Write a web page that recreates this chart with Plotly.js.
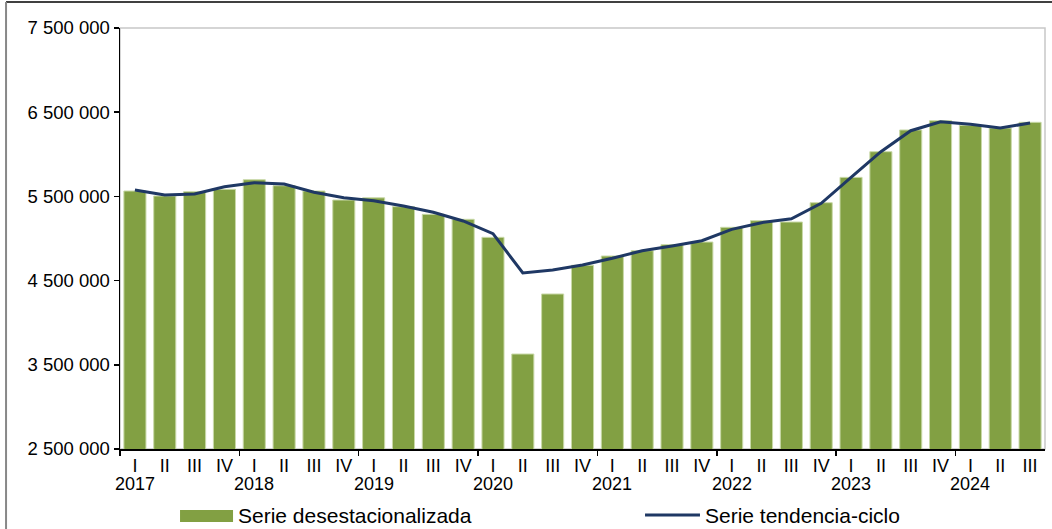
<!DOCTYPE html>
<html>
<head>
<meta charset="utf-8">
<script src="https://cdn.plot.ly/plotly-3.0.1.min.js"></script>
<style>html,body{margin:0;padding:0;background:#fff;}#chart{width:1052px;height:529px;}</style>
</head>
<body>
<div id="chart"></div>
<script>
const years = ['2017','2018','2019','2020','2021','2022','2023','2024'];
const quarters = ['I','II','III','IV','I','II','III','IV','I','II','III','IV','I','II','III','IV',
                  'I','II','III','IV','I','II','III','IV','I','II','III','IV','I','II','III'];
const desestacionalizada = [5564000,5505000,5556000,5584000,5698000,5627000,5564000,5457000,
                            5483000,5378000,5287000,5228000,5014000,3628000,4341000,4682000,
                            4792000,4855000,4927000,4958000,5133000,5212000,5196000,5425000,
                            5726000,6031000,6289000,6399000,6344000,6312000,6380000];
const tendenciaCiclo = [5576000,5517000,5528000,5615000,5663000,5647000,5549000,5485000,
                        5449000,5386000,5311000,5208000,5058000,4590000,4626000,4685000,
                        4765000,4855000,4911000,4974000,5109000,5188000,5235000,5418000,
                        5726000,6031000,6280000,6387000,6356000,6312000,6372000];
const labelBars = 'Serie desestacionalizada';
const labelLine = 'Serie tendencia-ciclo';

const idx = quarters.map((q, i) => i);
const FONT = 'Liberation Sans, Arial, sans-serif';
const green = '#82A043';
const navy = '#1F3864';

const traces = [
  {type:'bar', x: idx, y: desestacionalizada, name: labelBars,
   marker:{color: green, line:{color:'#C9D9A8', width:1}}, showlegend:false, hoverinfo:'y'},
  {type:'scatter', mode:'lines', x: idx, y: tendenciaCiclo, name: labelLine,
   line:{color: navy, width:3}, showlegend:false, hoverinfo:'y'}
];

// year labels under the first quarter of each year
const annotations = years.map((yr, k) => ({
  x: quarters.indexOf('I') + 4*k, xref:'x', y:-0.083, yref:'paper',
  text: yr, showarrow:false, xanchor:'center', yanchor:'middle',
  font:{family:FONT, size:18, color:'#000'}
}));
annotations.push({x:0.1254, xref:'paper', y:-0.1591, yref:'paper', text:labelBars,
  showarrow:false, xanchor:'left', yanchor:'middle', font:{family:FONT,size:21,color:'#000'}});
annotations.push({x:0.6303, xref:'paper', y:-0.1568, yref:'paper', text:labelLine,
  showarrow:false, xanchor:'left', yanchor:'middle', font:{family:FONT,size:21,color:'#000'}});

const shapes = [
  // plot area frame
  {type:'rect', xref:'paper', yref:'paper', x0:0, x1:1, y0:0, y1:1,
   line:{color:'#C8C8C8', width:1.5}, layer:'below'},
  // outer chart frame
  {type:'line', xref:'paper', yref:'paper', x0:-0.1232, x1:1.01, y0:1.0618, y1:1.0618,
   line:{color:'#000', width:1.5}},
  {type:'line', xref:'paper', yref:'paper', x0:-0.1232, x1:-0.1232, y0:1.0618, y1:-0.2,
   line:{color:'#888', width:2}},
  // legend swatches
  {type:'rect', xref:'paper', yref:'paper', x0:0.0649, x1:0.1222, y0:-0.1449, y1:-0.1734,
   fillcolor:green, line:{width:0}},
  {type:'line', xref:'paper', yref:'paper', x0:0.5676, x1:0.6270, y0:-0.1568, y1:-0.1568,
   line:{color:navy, width:3}}
];

const layout = {
  width:1052, height:529,
  margin:{l:120, r:7, t:28, b:80},
  paper_bgcolor:'#fff', plot_bgcolor:'#fff',
  separators:'. ',
  bargap:0.26,
  showlegend:false,
  font:{family:FONT, size:17, color:'#000'},
  xaxis:{
    range:[-0.5, quarters.length-0.5], tickmode:'array', tickvals: idx, ticktext: quarters,
    ticks:'', showline:true, linecolor:'#000', linewidth:1.5, showgrid:false, zeroline:false,
    tickfont:{family:FONT, size:18, color:'#000'},
    minor:{tickmode:'linear', tick0:-0.5, dtick:4, ticks:'outside', ticklen:5, tickcolor:'#000', tickwidth:1.5, showgrid:false}
  },
  yaxis:{
    range:[2500000, 7500000], tickmode:'linear', tick0:2500000, dtick:1000000,
    tickformat:',d', ticks:'outside', ticklen:5, tickcolor:'#000', tickwidth:1.5,
    showline:true, linecolor:'#000', linewidth:1.5, showgrid:false, zeroline:false,
    tickfont:{family:FONT, size:18.5, color:'#000'}
  },
  annotations: annotations,
  shapes: shapes
};

Plotly.newPlot('chart', traces, layout, {displayModeBar:false, staticPlot:true});
</script>
</body>
</html>
